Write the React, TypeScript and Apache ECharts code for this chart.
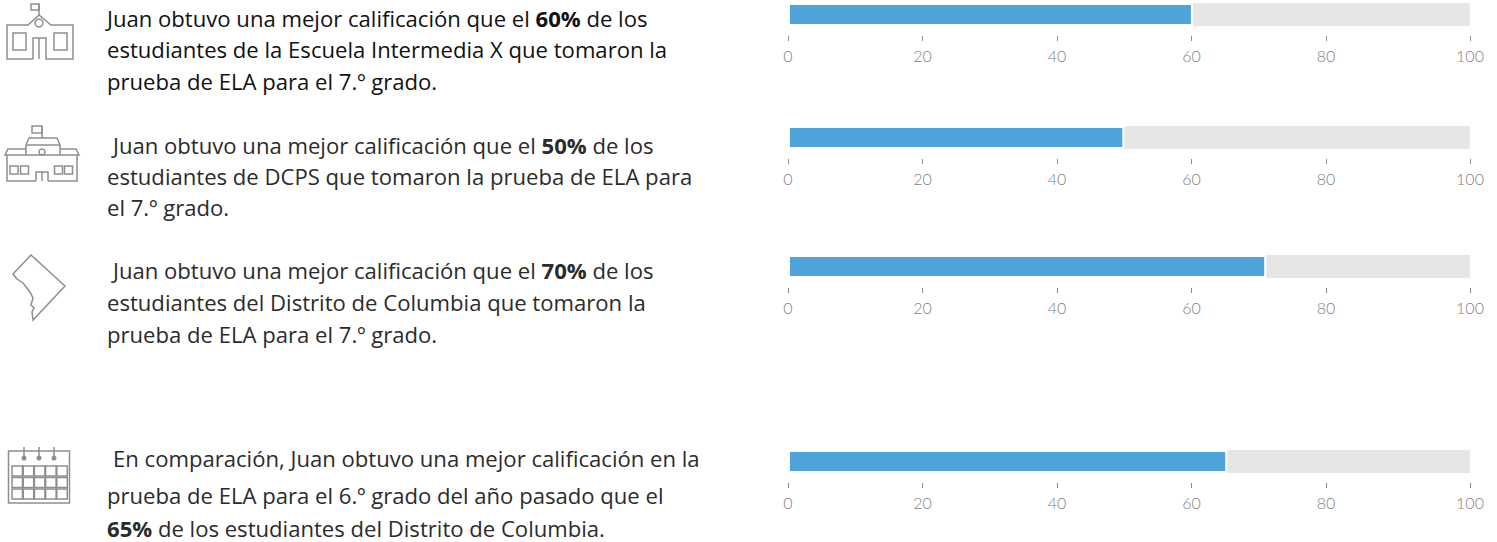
import React, { useEffect, useRef } from "react";
import * as echarts from "echarts";

const percentiles = [60.2, 50, 71.1, 65.3];
const trackEnd = 101.4;
const tickValues = [0, 20, 40, 60, 80, trackEnd];
const tickLabels = ["0", "20", "40", "60", "80", "100"];
const barTops = [3, 126, 255, 450];
const paragraphs = [
  ["Juan obtuvo una mejor calificación que el {b|60%} de los", "estudiantes de la Escuela Intermedia X que tomaron la", "prueba de ELA para el 7.º grado."],
  ["Juan obtuvo una mejor calificación que el {b|50%} de los", "estudiantes de DCPS que tomaron la prueba de ELA para", "el 7.º grado."],
  ["Juan obtuvo una mejor calificación que el {b|70%} de los", "estudiantes del Distrito de Columbia que tomaron la", "prueba de ELA para el 7.º grado."],
  ["En comparación, Juan obtuvo una mejor calificación en la", "prueba de ELA para el 6.º grado del año pasado que el", "{b|65%} de los estudiantes del Distrito de Columbia."],
];
const paragraphX = [107, 113, 113, 113];
const lineYs = [[18, 49, 81], [145, 176, 207], [270, 302, 334], [458, 495, 528]];
const paragraphColors = ["#111111", "#2b2b2b", "#2b2b2b", "#2b2b2b"];

const ICON = "#8e8e8e";
const s = (extra: any = {}) => ({ stroke: ICON, fill: "none", lineWidth: 1.5, ...extra });
const line = (x1: number, y1: number, x2: number, y2: number) => ({ type: "line", shape: { x1, y1, x2, y2 }, style: s() });
const rect = (x: number, y: number, width: number, height: number) => ({ type: "rect", shape: { x, y, width, height }, style: s() });
const poly = (points: number[][]) => ({ type: "polyline", shape: { points }, style: s() });

const school1 = [
  rect(31, 4, 8, 6), line(39, 4, 39, 16),
  poly([[33, 59], [7, 59], [7, 25], [28, 25], [39, 15], [51, 25], [73, 25], [73, 59], [46, 59], [46, 38], [33, 38], [33, 59]]),
  line(39, 38, 39, 59),
  { type: "circle", shape: { cx: 39, cy: 23, r: 4 }, style: s({ fill: "#fff" }) },
  rect(13, 33, 13, 17), rect(54, 33, 13, 17),
];
const school2 = [
  rect(32, 126, 10, 7), line(42, 126, 42, 138),
  poly([[26, 145], [29, 138], [57, 138], [60, 145], [26, 145]]),
  poly([[26, 149], [8, 149], [5, 155], [79, 155], [76, 149], [60, 149]]),
  line(26, 145, 26, 155), line(60, 145, 60, 155),
  poly([[36, 181], [7, 181], [7, 155]]), poly([[48, 181], [77, 181], [77, 155]]),
  poly([[36, 181], [36, 172], [48, 172], [48, 181]]), line(42, 172, 42, 181),
  { type: "circle", shape: { cx: 42, cy: 152, r: 3 }, style: s() },
  rect(10, 166, 8, 8), rect(20.5, 166, 8, 8), rect(54.5, 166, 8, 8), rect(64.5, 166, 8, 8),
];
const dc = [
  { type: "polygon", shape: { points: [[31, 255], [65, 286], [33, 320], [32, 312], [34, 308], [31, 305], [33, 298], [30, 292], [23, 283], [17, 279], [13, 274]] }, style: s() },
];
const calendar: any[] = [
  rect(8.5, 451, 61, 52),
  ...[24, 39, 54].flatMap((x) => [
    line(x, 447, x, 458),
    { type: "circle", shape: { cx: x, cy: 458, r: 2.5 }, style: { fill: ICON } },
  ]),
  ...[466, 477.5, 489].flatMap((y) => [12, 23.2, 34.4, 45.6, 56.8].map((x) => rect(x, y, 10.5, 10))),
];

export default function App() {
  const ref = useRef<HTMLDivElement>(null);
  useEffect(() => {
    const chart = echarts.init(ref.current!, null, { renderer: "svg" });
    const textEls: any[] = [];
    paragraphs.forEach((lines, i) => {
      lines.forEach((text, j) => {
        textEls.push({
          type: "text",
          x: j === 0 ? paragraphX[i] : 107,
          y: lineYs[i][j],
          style: {
            text,
            fill: paragraphColors[i],
            fontFamily: "Open Sans",
            fontSize: 22.1,
            verticalAlign: "middle",
            rich: { b: { fontWeight: "bold", fontFamily: "Open Sans", fontSize: 22.1, fill: paragraphColors[i] } },
          },
        });
      });
    });
    chart.setOption({
      animation: false,
      backgroundColor: "#fff",
      grid: barTops.map((top) => ({ left: 788, width: 682, top, height: 23 })),
      xAxis: barTops.map((_, i) => ({
        type: "value",
        gridIndex: i,
        min: 0,
        max: trackEnd,
        offset: 10,
        position: "bottom",
        splitLine: { show: false },
        axisLine: { show: false },
        axisTick: { show: true, length: 5, customValues: tickValues, lineStyle: { color: "#8a8a8a", width: 1 } },
        axisLabel: {
          show: true,
          customValues: tickValues,
          margin: 11,
          color: "#808080",
          fontFamily: "Lato",
          fontWeight: 300,
          fontSize: 16,
          formatter: (v: number) => tickLabels[tickValues.indexOf(v)],
        },
      })),
      yAxis: barTops.map((_, i) => ({
        type: "category",
        gridIndex: i,
        data: ["Juan"],
        axisLine: { show: false },
        axisTick: { show: false },
        axisLabel: { show: false },
      })),
      series: percentiles.flatMap((value, i) => [
        {
          type: "bar",
          xAxisIndex: i,
          yAxisIndex: i,
          stack: "s" + i,
          barWidth: 23,
          z: 3,
          data: [value],
          itemStyle: { color: "#4ea3db", borderColor: "#fff", borderWidth: 2 },
          silent: true,
        },
        {
          type: "bar",
          xAxisIndex: i,
          yAxisIndex: i,
          stack: "s" + i,
          barWidth: 23,
          z: 2,
          data: [trackEnd - value],
          itemStyle: { color: "#e6e6e5" },
          silent: true,
        },
      ]),
      graphic: [...textEls, ...school1, ...school2, ...dc, ...calendar],
    });
    return () => chart.dispose();
  }, []);
  return <div ref={ref} style={{ position: "fixed", left: 0, top: 0, width: 1497, height: 542 }} />;
}
